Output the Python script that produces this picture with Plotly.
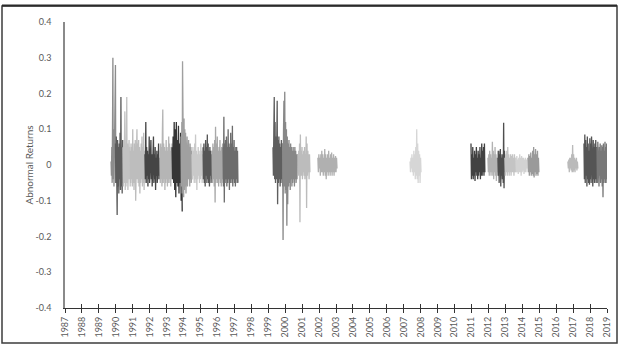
import numpy as np
import plotly.graph_objects as go

# ---------------- data ----------------
years = list(range(1987, 2020))
year_labels = [str(y) for y in years]
y_ticks = [0.4, 0.3, 0.2, 0.1, 0, -0.1, -0.2, -0.3, -0.4]
y_tick_labels = ["0.4", "0.3", "0.2", "0.1", "0", "-0.1", "-0.2", "-0.3", "-0.4"]

# date span (decimal years) of each event window
seg_start = [1989.72, 1989.98, 1990.42, 1990.85, 1991.72, 1992.60, 1993.32, 1993.85, 1994.50,
             1995.15, 1995.68, 1996.33, 1999.28, 1999.85, 2000.75, 2001.93, 2007.37, 2010.97,
             2011.97, 2012.56, 2012.97, 2013.62, 2014.33, 2016.69, 2017.64, 2018.41]
seg_end = [1990.00, 1990.45, 1990.85, 1991.72, 1992.60, 1993.32, 1993.92, 1994.50, 1995.15,
           1995.68, 1996.33, 1997.21, 1999.90, 2000.72, 2001.46, 2003.06, 2008.02, 2011.79,
           2012.68, 2012.97, 2013.62, 2014.27, 2014.98, 2017.28, 2018.41, 2019.00]

ar_01 = [0.01, -0.03, 0.05, -0.05, 0.12, 0.30, -0.04, 0.10, -0.06, 0.06, -0.03, 0.12, 0.28, -0.05]
ar_02 = [0.06, -0.05, 0.08, -0.09, -0.14, 0.07, -0.06, 0.05, -0.08, 0.06, -0.04, 0.09, -0.07, 0.19,
         -0.06, 0.05, -0.08, 0.07, -0.05, 0.04]
ar_03 = [0.05, -0.06, 0.07, -0.05, 0.06, 0.15, -0.07, 0.04, -0.06, 0.08, 0.19, -0.05, 0.06, -0.07,
         0.05, -0.06, 0.07, -0.04, 0.05, -0.06]
ar_04 = [0.04, -0.05, 0.06, -0.04, 0.05, -0.06, 0.10, -0.05, 0.04, -0.07, 0.06, -0.05, 0.07, -0.10,
         0.05, -0.06, 0.10, -0.04, 0.06, -0.05, 0.07, -0.06, 0.05, -0.08, 0.04, -0.05, 0.06, -0.04,
         0.08, -0.06, 0.05, -0.05, 0.09, -0.07, 0.04, -0.05]
ar_05 = [0.03, -0.04, 0.12, -0.05, 0.05, -0.03, 0.04, -0.06, 0.03, -0.04, 0.08, -0.05, 0.02, -0.03,
         0.07, -0.04, 0.03, -0.06, 0.04, -0.03, 0.08, -0.05, 0.03, -0.04, 0.05, -0.07, 0.02, -0.03,
         0.04, -0.05, 0.03, -0.04, 0.06, -0.03, 0.02, -0.04]
ar_06 = [0.04, -0.05, 0.06, -0.04, 0.05, -0.06, 0.09, 0.155, -0.05, 0.06, -0.04, 0.05, -0.07, 0.04,
         -0.05, 0.07, -0.04, 0.05, -0.06, 0.04, -0.05, 0.08, -0.04, 0.06, -0.05, 0.04, -0.06, 0.05,
         -0.04, 0.06]
ar_07 = [0.05, -0.04, 0.08, -0.05, 0.12, -0.07, 0.10, -0.09, 0.12, -0.05, 0.07, -0.06, 0.11, -0.08,
         0.06, -0.05, 0.09, -0.10, 0.04, -0.13]
ar_08 = [0.08, -0.06, 0.12, -0.08, 0.29, -0.05, 0.18, -0.09, 0.13, -0.07, 0.10, -0.06, 0.09, -0.08,
         0.07, -0.05, 0.08, -0.06, 0.06, -0.05, 0.07, -0.04, 0.05, -0.06, 0.06, -0.04, 0.05, -0.05,
         0.04, -0.04]
ar_09 = [0.03, -0.04, 0.05, -0.03, 0.04, -0.05, 0.06, -0.04, 0.085, -0.05, 0.04, -0.07, 0.03, -0.04,
         0.05, -0.03, 0.04, -0.05, 0.03, -0.04, 0.06, -0.03, 0.04, -0.05, 0.03, -0.04]
ar_10 = [0.05, -0.04, 0.06, -0.05, 0.04, -0.06, 0.07, -0.03, 0.05, -0.05, 0.085, -0.04, 0.06, -0.05,
         0.04, -0.06, 0.05, -0.03, 0.04, -0.05, 0.03, -0.04]
ar_11 = [0.04, -0.05, 0.06, -0.04, 0.05, -0.06, 0.07, -0.105, 0.107, -0.05, 0.06, -0.04, 0.08, -0.05,
         0.04, -0.06, 0.05, -0.04, 0.07, -0.05, 0.04, -0.06, 0.05, -0.04, 0.06, -0.05]
ar_12 = [0.05, -0.06, 0.135, -0.105, 0.06, -0.05, 0.07, -0.04, 0.08, -0.06, 0.05, -0.05, 0.10, -0.04,
         0.06, -0.07, 0.05, -0.05, 0.09, -0.04, 0.06, -0.05, 0.11, -0.06, 0.05, -0.04, 0.07, -0.05,
         0.04, -0.06, 0.05, -0.04, 0.05, -0.05, 0.04, -0.05]
ar_13 = [0.05, -0.03, 0.10, 0.19, -0.04, 0.12, -0.05, 0.08, -0.04, 0.09, 0.18, -0.11, 0.07, -0.05,
         0.08, -0.04, 0.06, -0.06, 0.05, -0.05, 0.07, -0.04, 0.06, -0.06, 0.05, -0.03]
ar_14 = [0.06, -0.21, 0.09, 0.18, -0.06, 0.205, -0.08, 0.12, -0.07, 0.10, -0.17, 0.08, -0.11, 0.06,
         -0.06, 0.07, -0.05, 0.05, -0.07, 0.06, -0.04, 0.05, -0.06, 0.04, -0.05, 0.05, -0.04, 0.04,
         -0.06, 0.05, -0.04, 0.04, -0.05, 0.03, -0.04, 0.03]
ar_15 = [0.03, -0.03, 0.04, -0.02, 0.06, -0.16, 0.085, -0.03, 0.04, -0.03, 0.05, -0.04, 0.03, -0.02,
         0.04, -0.03, 0.05, -0.04, 0.03, -0.03, 0.08, -0.12, 0.06, -0.03, 0.04, -0.02, 0.03, -0.04,
         0.03, -0.02]
ar_16 = [0.02, -0.02, 0.03, -0.01, 0.02, -0.03, 0.03, -0.02, 0.04, -0.02, 0.03, -0.03, 0.02, -0.02,
         0.045, -0.03, 0.03, -0.04, 0.02, -0.02, 0.03, -0.03, 0.04, -0.02, 0.02, -0.03, 0.03, -0.02,
         0.035, -0.03, 0.02, -0.02, 0.03, -0.03, 0.02, -0.02, 0.025, -0.02, 0.02, -0.01]
ar_17 = [0.01, -0.02, 0.02, -0.01, 0.03, -0.02, 0.02, -0.03, 0.04, -0.02, 0.03, -0.04, 0.05, -0.03,
         0.10, -0.04, 0.06, -0.05, 0.04, -0.03, 0.03, -0.05, 0.02, -0.02]
ar_18 = [0.06, -0.04, 0.03, -0.03, 0.05, -0.04, 0.02, -0.03, 0.04, -0.045, 0.03, -0.02, 0.05, -0.03,
         0.02, -0.04, 0.04, -0.03, 0.03, -0.02, 0.05, -0.04, 0.02, -0.03, 0.06, -0.03, 0.04, -0.02,
         0.05, -0.03, 0.06, -0.02]
ar_19 = [0.02, -0.02, 0.03, -0.03, 0.04, -0.02, 0.03, -0.03, 0.02, -0.02, 0.065, -0.03, 0.04, -0.04,
         0.03, -0.02, 0.05, -0.03, 0.03, -0.045, 0.02, -0.02, 0.04, -0.03, 0.02, -0.03, 0.03, -0.02]
ar_20 = [0.02, -0.03, 0.04, -0.05, 0.03, -0.02, 0.045, -0.06, 0.02, -0.03, 0.03, -0.04, 0.02, -0.05,
         0.118, -0.065, 0.04, -0.02]
ar_21 = [0.02, -0.03, 0.03, -0.02, 0.04, -0.03, 0.05, -0.02, 0.03, -0.03, 0.02, -0.02, 0.03, -0.03,
         0.025, -0.02, 0.03, -0.02, 0.02, -0.03, 0.03, -0.02, 0.02, -0.02]
ar_22 = [0.02, -0.02, 0.025, -0.02, 0.015, -0.025, 0.02, -0.02, 0.03, -0.02, 0.02, -0.03, 0.025, -0.02,
         0.02, -0.015, 0.02, -0.025, 0.015, -0.02, 0.02, -0.02, 0.015, -0.01]
ar_23 = [0.02, -0.02, 0.03, -0.03, 0.025, -0.02, 0.035, -0.03, 0.02, -0.025, 0.04, -0.03, 0.05, -0.035,
         0.03, -0.02, 0.045, -0.03, 0.03, -0.025, 0.04, -0.03, 0.02, -0.02]
ar_24 = [0.01, -0.01, 0.015, -0.02, 0.02, -0.01, 0.02, -0.015, 0.03, -0.02, 0.056, -0.02, 0.03, -0.015,
         0.02, -0.02, 0.015, -0.01, 0.02, -0.015, 0.01, -0.01]
ar_25 = [0.06, -0.04, 0.085, -0.05, 0.07, -0.03, 0.05, -0.06, 0.08, -0.04, 0.06, -0.05, 0.04, -0.055,
         0.075, -0.04, 0.06, -0.05, 0.08, -0.035, 0.05, -0.06, 0.07, -0.04, 0.05, -0.05, 0.06, -0.04,
         0.07, -0.05, 0.05, -0.04]
ar_26 = [0.05, -0.05, 0.065, -0.04, 0.04, -0.06, 0.05, -0.03, 0.06, -0.05, 0.04, -0.04, 0.055, -0.06,
         0.05, -0.09, 0.06, -0.05, 0.04, -0.04, 0.065, -0.05, 0.05, -0.04, 0.06, -0.05]

segments = [ar_01, ar_02, ar_03, ar_04, ar_05, ar_06, ar_07, ar_08, ar_09, ar_10, ar_11, ar_12, ar_13,
            ar_14, ar_15, ar_16, ar_17, ar_18, ar_19, ar_20, ar_21, ar_22, ar_23, ar_24, ar_25, ar_26]

# ---------------- style ----------------
seg_colors = ["#8c8c8c", "#5c5c5c", "#c2c2c2", "#bdbdbd", "#454545", "#b5b5b5", "#353535", "#a0a0a0",
              "#c9c9c9", "#565656", "#a8a8a8", "#6c6c6c", "#5e5e5e", "#888888", "#bcbcbc", "#b0b0b0",
              "#d6d6d6", "#424242", "#b2b2b2", "#4e4e4e", "#c4c4c4", "#d2d2d2", "#9a9a9a", "#bababa",
              "#555555", "#787878"]

W, H = 619, 345
ML, MR, MT, MB = 65, 12, 22, 37
FONT = "Lato, Open Sans, sans-serif"
LABEL_COLOR = "#595959"

fig = go.Figure()
for vals, s, e, c in zip(segments, seg_start, seg_end, seg_colors):
    xs = np.linspace(s, e, len(vals))
    fig.add_trace(go.Scatter(x=xs, y=vals, mode="lines",
                             line=dict(color=c, width=1.3),
                             showlegend=False, hoverinfo="skip"))

# helper trace on an overlaid axis to draw the inner half of the cross ticks
fig.add_trace(go.Scatter(x=[years[0]], y=[None], xaxis="x2", mode="lines",
                         showlegend=False, hoverinfo="skip"))

fig.update_layout(
    width=W, height=H,
    margin=dict(l=ML, r=MR, t=MT, b=MB, autoexpand=False),
    paper_bgcolor="white", plot_bgcolor="white",
    font=dict(family=FONT, size=9, color=LABEL_COLOR),
    xaxis=dict(range=[years[0], years[-1]], tickmode="array", tickvals=years, ticktext=year_labels,
               tickangle=-90, ticks="outside", ticklen=4, tickwidth=1, tickcolor="#333333",
               showline=True, linecolor="#333333", linewidth=1.2, showgrid=False, zeroline=False,
               automargin=False,
               tickfont=dict(size=9, color=LABEL_COLOR, family=FONT), fixedrange=True),
    xaxis2=dict(range=[years[0], years[-1]], overlaying="x", anchor="y", side="bottom",
                tickmode="array", tickvals=years, ticks="inside", ticklen=4, tickwidth=1,
                tickcolor="#333333", showticklabels=False, showline=False, showgrid=False,
                zeroline=False, automargin=False),
    yaxis=dict(range=[-0.4, 0.4], tickmode="array", tickvals=y_ticks, ticktext=y_tick_labels,
               ticks="", showline=True, linecolor="#8a8a8a", linewidth=1.5, showgrid=False,
               zeroline=False, ticklabelstandoff=10, automargin=False,
               tickfont=dict(size=9, color=LABEL_COLOR, family=FONT),
               title=dict(text="Abnormal Returns", standoff=0,
                          font=dict(size=10, color=LABEL_COLOR, family=FONT))),
)

# outer frame around the whole chart (paper coordinates derived from pixel geometry)
pw, ph = W - ML - MR, H - MT - MB
def px_x(p):
    return (p - ML) / pw
def px_y(p):
    return (H - MB - p) / ph

fig.add_shape(type="rect", xref="paper", yref="paper",
              x0=px_x(2), x1=px_x(617), y0=px_y(343), y1=px_y(6),
              line=dict(color="#3c3c3c", width=1.5), fillcolor="rgba(0,0,0,0)", layer="above")
fig.add_shape(type="line", xref="paper", yref="paper",
              x0=px_x(2), x1=px_x(617), y0=px_y(5.5), y1=px_y(5.5),
              line=dict(color="#2a2a2a", width=2.2), layer="above")

fig.write_html("out.html", config={"displayModeBar": False},
               post_script="document.body.style.margin='0';document.body.style.overflow='hidden';")
